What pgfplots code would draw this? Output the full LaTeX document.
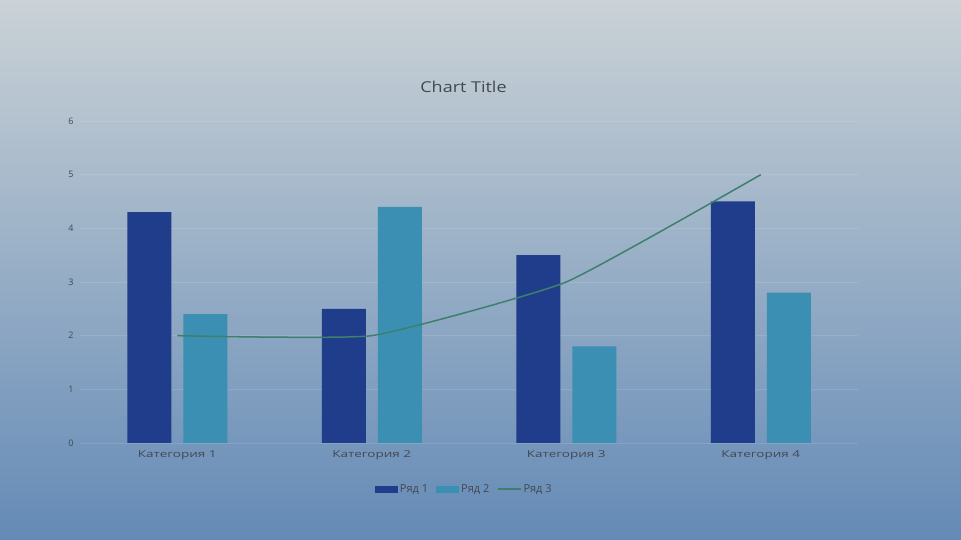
\documentclass[border=0pt]{standalone}
\usepackage{fontspec}
\setmainfont{Open Sans}
\usepackage{pgfplots}
\pgfplotsset{compat=1.18}
\definecolor{bgtop}{RGB}{202,210,214}
\definecolor{bgmid}{RGB}{167,186,202}
\definecolor{bgbot}{RGB}{100,138,182}
\definecolor{ser1}{RGB}{31,61,138}
\definecolor{ser2}{RGB}{58,143,178}
\definecolor{ser3}{RGB}{62,128,110}
\definecolor{txt}{RGB}{66,72,82}
\begin{document}
\begin{tikzpicture}[x=1pt,y=1pt]
\useasboundingbox (0,0) rectangle (961,540);
\shade[top color=bgtop, middle color=bgmid, bottom color=bgbot] (0,0) rectangle (961,540);
\node[text=txt, font=\fontsize{15}{17}\selectfont, xscale=1.2] at (463.5,453) {Chart Title};
\begin{axis}[
  at={(80pt,97pt)}, anchor=south west,
  scale only axis, width=778pt, height=322pt,
  xmin=0.5, xmax=4.5, ymin=0, ymax=6,
  axis line style={draw=none},
  major tick length=0pt,
  xtick={1,2,3,4},
  xticklabels={Категория 1, Категория 2, Категория 3, Категория 4},
  ytick={0,1,...,6},
  ymajorgrids,
  grid style={white, opacity=0.12, line width=0.6pt},
  /pgf/number format/assume math mode=true,
  ticklabel style={text=txt},
  xticklabel style={font=\fontsize{9.5}{11}\selectfont, xscale=1.42, yshift=-4pt},
  yticklabel style={font=\fontsize{9}{11}\selectfont, xshift=-3pt},
  legend columns=3,
  legend style={draw=none, fill=none, font=\fontsize{11}{12}\selectfont, text=txt,
    at={(0.494,-0.143)}, anchor=center,
    /tikz/every even column/.append style={column sep=6pt}},
]
\draw[white, opacity=0.45, line width=0.8pt] (axis cs:0.5,0) -- (axis cs:4.5,0);
\addplot[ybar, bar width=44pt, bar shift=-28pt, fill=ser1, draw=none,
  legend image code/.code={\fill[ser1] (0pt,-3.5pt) rectangle (23pt,3.5pt);}]
  coordinates {(1,4.3) (2,2.5) (3,3.5) (4,4.5)};
\addlegendentry{Ряд 1}
\addplot[ybar, bar width=44pt, bar shift=28pt, fill=ser2, draw=none,
  legend image code/.code={\fill[ser2] (0pt,-3.5pt) rectangle (23pt,3.5pt);}]
  coordinates {(1,2.4) (2,4.4) (3,1.8) (4,2.8)};
\addlegendentry{Ряд 2}
\addplot[smooth, tension=0.25, color=ser3, line width=1.5pt, mark=none,
  legend image code/.code={\draw[ser3, line width=1.2pt] (0pt,0pt) -- (23pt,0pt);}]
  coordinates {(1,2) (2,2) (3,3) (4,5)};
\addlegendentry{Ряд 3}
\end{axis}
\end{tikzpicture}
\end{document}
